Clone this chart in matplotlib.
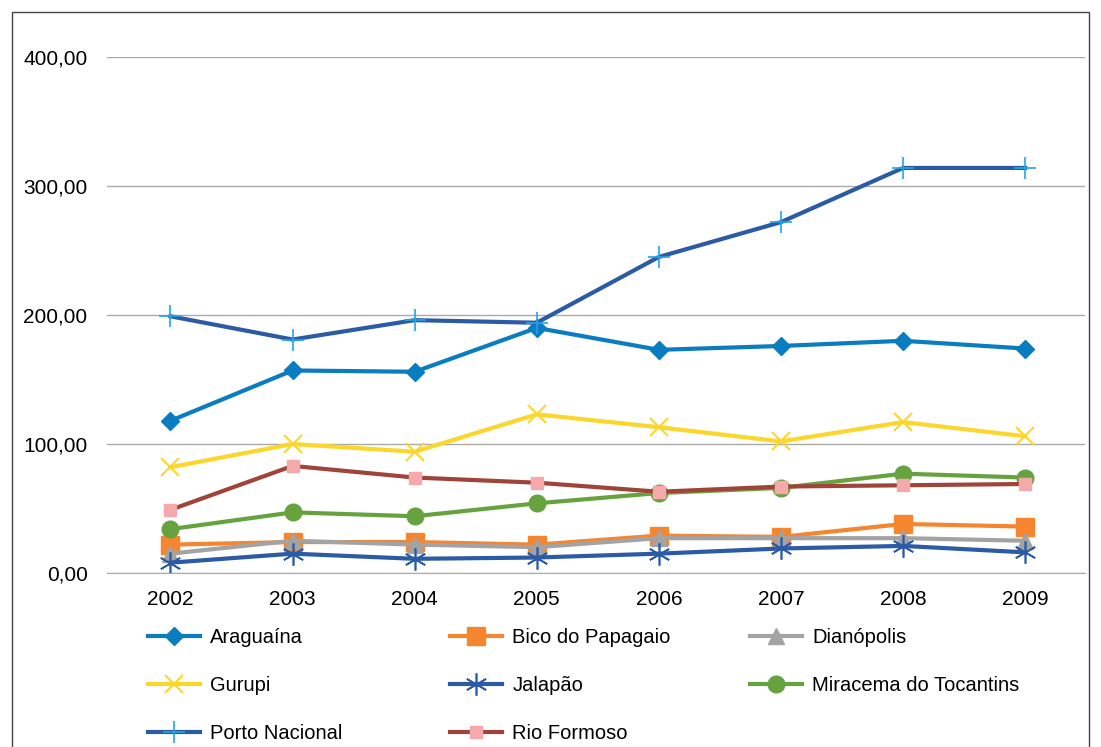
import matplotlib.pyplot as plt
from matplotlib.patches import Rectangle
from matplotlib.ticker import FuncFormatter

plt.rcParams['font.family'] = ['Liberation Sans', 'DejaVu Sans']

anos = [2002, 2003, 2004, 2005, 2006, 2007, 2008, 2009]
araguaina = [118, 157, 156, 190, 173, 176, 180, 174]
bico = [22, 24, 24, 22, 29, 28, 38, 36]
dianopolis = [15, 25, 22, 20, 27, 27, 27, 25]
gurupi = [82, 100, 94, 123, 113, 102, 117, 106]
jalapao = [8, 15, 11, 12, 15, 19, 21, 16]
miracema = [34, 47, 44, 54, 62, 66, 77, 74]
porto = [199, 181, 196, 194, 245, 272, 314, 314]
rio = [49, 83, 74, 70, 63, 67, 68, 69]

series = [
    ("Araguaína", araguaina, "#0a7cc0", dict(marker="D", ms=9, mfc="#0a7cc0", mec="#0a7cc0")),
    ("Bico do Papagaio", bico, "#f5862f", dict(marker="s", ms=13, mfc="#f5862f", mec="#f5862f")),
    ("Dianópolis", dianopolis, "#a3a3a3", dict(marker="^", ms=11, mfc="#a3a3a3", mec="#a3a3a3")),
    ("Gurupi", gurupi, "#fcd62b", dict(marker="x", ms=13, mew=1.5, mec="#fcd62b")),
    ("Jalapão", jalapao, "#2c5ba6", dict(marker=(6, 2, 0), ms=16, mew=1.2, mec="#2c5ba6")),
    ("Miracema do Tocantins", miracema, "#66a33f", dict(marker="o", ms=12, mfc="#66a33f", mec="#66a33f")),
    ("Porto Nacional", porto, "#2c5ba6", dict(marker="+", ms=16, mew=1.2, mec="#1fa6e8")),
    ("Rio Formoso", rio, "#a0443a", dict(marker="s", ms=8, mfc="#f5a9ac", mec="#f5a9ac")),
]

fig = plt.figure(figsize=(11.01, 7.47), dpi=100)
fig.patches.append(Rectangle((12/1101, -0.01), 1 - 24/1101, 1 - 12/747 + 0.01,
                             transform=fig.transFigure, fill=False, ec="#444444", lw=1))
ax = fig.add_axes([107/1101, 1 - 573/747, (1085 - 107)/1101, (573 - 57)/747])

linhas = []
for nome, vals, cor, mk in series:
    l, = ax.plot(anos, vals, color=cor, lw=3, label=nome, **mk)
    linhas.append(l)

ax.set_ylim(0, 400)
ax.set_xlim(2001.48, 2009.49)
ax.set_yticks([0, 100, 200, 300, 400])
ax.yaxis.set_major_formatter(FuncFormatter(lambda v, p: f"{v:.2f}".replace(".", ",")))
ax.grid(axis="y", color="#aaaaaa", lw=1)
ax.set_axisbelow(True)
for s in ["top", "right", "left"]:
    ax.spines[s].set_visible(False)
ax.spines["bottom"].set_color("#aaaaaa")
ax.tick_params(length=0, labelsize=15, pad=12)
ax.tick_params(axis="y", pad=14)

# three legend columns at fixed positions
colunas = [[0, 3, 6], [1, 4, 7], [2, 5]]
xs = [148, 450, 750]
for col, x0 in zip(colunas, xs):
    fig.legend([linhas[i] for i in col], [series[i][0] for i in col],
               loc="upper left", bbox_to_anchor=(x0/1101, 1 - 628/747),
               frameon=False, fontsize=14.5, handlelength=2.6, handletextpad=0.5,
               labelspacing=1.45, borderaxespad=0, borderpad=0)

fig.savefig("out.png")
